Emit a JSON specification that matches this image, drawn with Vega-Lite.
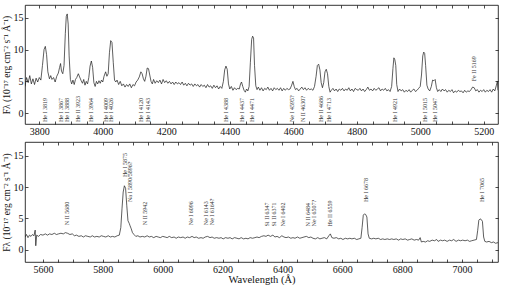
{
"$schema":"https://vega.github.io/schema/vega-lite/v6.json",
"padding":{"left":0,"right":5,"top":4,"bottom":0},
"spacing":4,
"config":{"font":"Liberation Serif","view":{"stroke":"#000","strokeWidth":0.8},
 "text":{"font":"Liberation Serif"},
 "axis":{"domain":false,"grid":false,"tickColor":"#000","tickSize":-3,"tickWidth":0.7,"labelPadding":5,"labelFont":"Liberation Serif","titleFont":"Liberation Serif","labelFontSize":10,"labelColor":"#111","titleFontSize":9.5,"titleFontWeight":"normal","titleColor":"#111"}},
"datasets":{
"top":[{"w":3755,"f":4.2},{"w":3760,"f":5.6},{"w":3765,"f":4.8},{"w":3770,"f":5.9},{"w":3775,"f":4.6},{"w":3780,"f":5.4},{"w":3785,"f":4.5},{"w":3790,"f":5.5},{"w":3795,"f":4.9},{"w":3800,"f":5.6},{"w":3805,"f":5.2},{"w":3810,"f":7.5},{"w":3815,"f":10.0},{"w":3819,"f":10.5},{"w":3823,"f":9.2},{"w":3827,"f":6.5},{"w":3832,"f":5.4},{"w":3836,"f":5.9},{"w":3840,"f":5.3},{"w":3845,"f":5.6},{"w":3850,"f":4.9},{"w":3855,"f":5.8},{"w":3860,"f":6.3},{"w":3864,"f":7.2},{"w":3867,"f":7.8},{"w":3870,"f":6.6},{"w":3874,"f":6.2},{"w":3878,"f":7.5},{"w":3882,"f":12.5},{"w":3885,"f":15.2},{"w":3888,"f":15.6},{"w":3891,"f":14.0},{"w":3894,"f":9.0},{"w":3898,"f":5.3},{"w":3902,"f":4.6},{"w":3906,"f":5.2},{"w":3910,"f":4.5},{"w":3914,"f":5.3},{"w":3918,"f":5.6},{"w":3923,"f":6.2},{"w":3927,"f":5.7},{"w":3932,"f":5.1},{"w":3936,"f":4.7},{"w":3940,"f":5.3},{"w":3944,"f":4.4},{"w":3948,"f":5.0},{"w":3952,"f":4.6},{"w":3956,"f":5.6},{"w":3960,"f":7.4},{"w":3964,"f":8.2},{"w":3968,"f":7.2},{"w":3972,"f":4.8},{"w":3976,"f":4.2},{"w":3980,"f":5.0},{"w":3984,"f":4.6},{"w":3988,"f":5.1},{"w":3992,"f":4.7},{"w":3996,"f":5.2},{"w":4000,"f":4.9},{"w":4004,"f":5.8},{"w":4009,"f":6.5},{"w":4013,"f":5.8},{"w":4017,"f":6.2},{"w":4021,"f":9.5},{"w":4025,"f":11.4},{"w":4029,"f":11.1},{"w":4033,"f":8.0},{"w":4037,"f":5.2},{"w":4041,"f":4.9},{"w":4045,"f":5.2},{"w":4050,"f":4.5},{"w":4055,"f":5.0},{"w":4060,"f":4.3},{"w":4065,"f":4.6},{"w":4070,"f":4.1},{"w":4075,"f":4.5},{"w":4080,"f":4.2},{"w":4085,"f":4.6},{"w":4090,"f":4.0},{"w":4095,"f":4.5},{"w":4100,"f":4.3},{"w":4105,"f":4.9},{"w":4110,"f":5.2},{"w":4115,"f":5.7},{"w":4120,"f":6.5},{"w":4124,"f":6.2},{"w":4128,"f":5.4},{"w":4132,"f":5.0},{"w":4136,"f":5.8},{"w":4140,"f":7.1},{"w":4144,"f":7.0},{"w":4148,"f":6.0},{"w":4152,"f":5.0},{"w":4156,"f":4.6},{"w":4160,"f":5.3},{"w":4165,"f":4.7},{"w":4170,"f":5.1},{"w":4175,"f":4.8},{"w":4180,"f":5.2},{"w":4185,"f":4.6},{"w":4190,"f":5.3},{"w":4195,"f":4.8},{"w":4200,"f":5.1},{"w":4205,"f":4.7},{"w":4210,"f":5.0},{"w":4215,"f":4.6},{"w":4220,"f":4.9},{"w":4225,"f":4.5},{"w":4230,"f":4.9},{"w":4235,"f":4.6},{"w":4240,"f":4.8},{"w":4245,"f":4.5},{"w":4250,"f":4.9},{"w":4255,"f":4.4},{"w":4260,"f":4.7},{"w":4265,"f":4.3},{"w":4270,"f":4.7},{"w":4275,"f":4.4},{"w":4280,"f":4.6},{"w":4285,"f":4.2},{"w":4290,"f":4.6},{"w":4295,"f":4.3},{"w":4300,"f":4.5},{"w":4305,"f":4.1},{"w":4310,"f":4.5},{"w":4315,"f":4.2},{"w":4320,"f":4.4},{"w":4325,"f":4.0},{"w":4330,"f":4.5},{"w":4335,"f":4.1},{"w":4340,"f":4.3},{"w":4345,"f":3.9},{"w":4350,"f":4.4},{"w":4355,"f":4.0},{"w":4360,"f":4.3},{"w":4365,"f":3.8},{"w":4370,"f":4.2},{"w":4375,"f":3.9},{"w":4380,"f":5.0},{"w":4384,"f":6.8},{"w":4388,"f":7.4},{"w":4392,"f":6.9},{"w":4396,"f":4.6},{"w":4400,"f":3.8},{"w":4405,"f":4.2},{"w":4410,"f":3.6},{"w":4415,"f":4.0},{"w":4420,"f":3.7},{"w":4425,"f":3.9},{"w":4430,"f":3.8},{"w":4434,"f":4.6},{"w":4437,"f":4.9},{"w":4441,"f":4.2},{"w":4445,"f":3.6},{"w":4449,"f":3.3},{"w":4453,"f":3.8},{"w":4457,"f":3.5},{"w":4461,"f":4.2},{"w":4465,"f":8.0},{"w":4469,"f":11.6},{"w":4472,"f":12.1},{"w":4475,"f":11.8},{"w":4478,"f":7.5},{"w":4482,"f":4.3},{"w":4486,"f":3.7},{"w":4490,"f":4.1},{"w":4495,"f":3.6},{"w":4500,"f":4.0},{"w":4505,"f":3.5},{"w":4510,"f":3.9},{"w":4515,"f":3.7},{"w":4520,"f":4.1},{"w":4525,"f":3.6},{"w":4530,"f":3.9},{"w":4535,"f":3.5},{"w":4540,"f":4.0},{"w":4545,"f":3.7},{"w":4550,"f":3.9},{"w":4555,"f":3.6},{"w":4560,"f":4.0},{"w":4565,"f":3.5},{"w":4570,"f":3.9},{"w":4575,"f":3.6},{"w":4580,"f":3.9},{"w":4585,"f":3.7},{"w":4590,"f":3.8},{"w":4595,"f":4.4},{"w":4599,"f":5.0},{"w":4603,"f":4.2},{"w":4607,"f":3.7},{"w":4612,"f":3.9},{"w":4617,"f":3.5},{"w":4622,"f":3.8},{"w":4627,"f":4.1},{"w":4632,"f":3.7},{"w":4637,"f":4.0},{"w":4642,"f":3.6},{"w":4647,"f":3.9},{"w":4652,"f":3.7},{"w":4657,"f":3.8},{"w":4662,"f":3.6},{"w":4667,"f":4.2},{"w":4672,"f":5.8},{"w":4676,"f":7.5},{"w":4680,"f":7.7},{"w":4684,"f":6.8},{"w":4688,"f":4.8},{"w":4692,"f":4.0},{"w":4696,"f":4.8},{"w":4700,"f":6.5},{"w":4704,"f":6.9},{"w":4708,"f":6.2},{"w":4712,"f":4.2},{"w":4716,"f":3.3},{"w":4720,"f":3.6},{"w":4725,"f":3.9},{"w":4730,"f":3.5},{"w":4735,"f":3.8},{"w":4740,"f":3.4},{"w":4745,"f":3.8},{"w":4750,"f":3.6},{"w":4755,"f":3.9},{"w":4760,"f":3.5},{"w":4765,"f":3.8},{"w":4770,"f":3.6},{"w":4775,"f":4.0},{"w":4780,"f":3.5},{"w":4785,"f":3.8},{"w":4790,"f":3.4},{"w":4795,"f":3.9},{"w":4800,"f":3.7},{"w":4805,"f":3.6},{"w":4810,"f":3.9},{"w":4815,"f":3.5},{"w":4820,"f":3.8},{"w":4825,"f":3.4},{"w":4830,"f":3.7},{"w":4835,"f":4.1},{"w":4840,"f":3.6},{"w":4845,"f":3.8},{"w":4850,"f":3.5},{"w":4855,"f":3.9},{"w":4860,"f":3.6},{"w":4865,"f":3.8},{"w":4870,"f":4.0},{"w":4875,"f":3.5},{"w":4880,"f":3.8},{"w":4885,"f":3.6},{"w":4890,"f":3.9},{"w":4895,"f":3.5},{"w":4900,"f":3.7},{"w":4905,"f":3.4},{"w":4910,"f":4.2},{"w":4914,"f":7.0},{"w":4917,"f":8.7},{"w":4920,"f":8.4},{"w":4923,"f":7.5},{"w":4926,"f":4.5},{"w":4930,"f":3.4},{"w":4935,"f":3.8},{"w":4940,"f":3.5},{"w":4945,"f":3.7},{"w":4950,"f":3.3},{"w":4955,"f":3.6},{"w":4960,"f":3.4},{"w":4965,"f":3.7},{"w":4970,"f":3.3},{"w":4975,"f":3.6},{"w":4980,"f":3.8},{"w":4985,"f":3.4},{"w":4990,"f":3.6},{"w":4995,"f":3.9},{"w":5000,"f":4.2},{"w":5004,"f":6.0},{"w":5008,"f":9.0},{"w":5011,"f":9.6},{"w":5014,"f":9.4},{"w":5017,"f":7.5},{"w":5021,"f":4.4},{"w":5025,"f":3.8},{"w":5030,"f":3.5},{"w":5035,"f":4.2},{"w":5039,"f":5.2},{"w":5043,"f":5.1},{"w":5047,"f":5.3},{"w":5051,"f":4.0},{"w":5055,"f":3.4},{"w":5060,"f":3.7},{"w":5065,"f":3.4},{"w":5070,"f":3.8},{"w":5075,"f":3.5},{"w":5080,"f":3.7},{"w":5085,"f":3.3},{"w":5090,"f":3.6},{"w":5095,"f":3.4},{"w":5100,"f":3.7},{"w":5105,"f":3.2},{"w":5110,"f":3.5},{"w":5115,"f":3.3},{"w":5120,"f":3.6},{"w":5125,"f":3.4},{"w":5130,"f":3.5},{"w":5135,"f":3.2},{"w":5140,"f":3.6},{"w":5145,"f":3.3},{"w":5150,"f":3.5},{"w":5155,"f":3.4},{"w":5160,"f":3.7},{"w":5165,"f":4.1},{"w":5170,"f":4.0},{"w":5175,"f":3.5},{"w":5180,"f":3.7},{"w":5185,"f":3.3},{"w":5190,"f":3.6},{"w":5195,"f":3.4},{"w":5200,"f":3.7},{"w":5205,"f":3.3},{"w":5210,"f":3.6},{"w":5215,"f":3.4},{"w":5220,"f":3.7},{"w":5225,"f":3.3},{"w":5230,"f":3.8},{"w":5235,"f":3.5},{"w":5240,"f":4.4},{"w":5243,"f":5.0},{"w":5245,"f":3.6}],
"bot":[{"w":5540,"f":2.0},{"w":5545,"f":2.4},{"w":5550,"f":1.9},{"w":5555,"f":2.3},{"w":5560,"f":2.1},{"w":5565,"f":2.4},{"w":5570,"f":2.2},{"w":5574,"f":3.1},{"w":5576,"f":0.6},{"w":5579,"f":2.3},{"w":5585,"f":2.1},{"w":5592,"f":2.4},{"w":5600,"f":2.3},{"w":5608,"f":2.5},{"w":5615,"f":2.3},{"w":5622,"f":2.5},{"w":5630,"f":2.4},{"w":5638,"f":2.6},{"w":5645,"f":2.4},{"w":5652,"f":2.5},{"w":5660,"f":2.6},{"w":5668,"f":2.5},{"w":5675,"f":2.7},{"w":5682,"f":2.6},{"w":5690,"f":2.4},{"w":5698,"f":2.5},{"w":5705,"f":2.2},{"w":5712,"f":2.3},{"w":5720,"f":2.1},{"w":5728,"f":2.2},{"w":5735,"f":2.0},{"w":5742,"f":2.2},{"w":5750,"f":2.1},{"w":5758,"f":2.0},{"w":5765,"f":2.2},{"w":5772,"f":2.0},{"w":5780,"f":2.1},{"w":5788,"f":2.0},{"w":5795,"f":2.2},{"w":5802,"f":2.1},{"w":5810,"f":2.0},{"w":5818,"f":2.2},{"w":5825,"f":2.0},{"w":5832,"f":2.1},{"w":5840,"f":2.0},{"w":5848,"f":2.2},{"w":5855,"f":2.3},{"w":5860,"f":3.5},{"w":5864,"f":6.5},{"w":5868,"f":9.2},{"w":5872,"f":10.2},{"w":5876,"f":9.8},{"w":5880,"f":7.0},{"w":5884,"f":4.6},{"w":5888,"f":4.2},{"w":5891,"f":3.8},{"w":5895,"f":3.3},{"w":5899,"f":2.7},{"w":5904,"f":2.4},{"w":5910,"f":2.1},{"w":5917,"f":2.2},{"w":5924,"f":2.0},{"w":5932,"f":2.1},{"w":5940,"f":2.0},{"w":5948,"f":2.2},{"w":5955,"f":2.0},{"w":5962,"f":2.1},{"w":5970,"f":1.9},{"w":5978,"f":2.1},{"w":5985,"f":2.0},{"w":5992,"f":1.9},{"w":6000,"f":2.1},{"w":6008,"f":2.0},{"w":6015,"f":1.9},{"w":6022,"f":2.1},{"w":6030,"f":1.9},{"w":6038,"f":2.0},{"w":6045,"f":1.8},{"w":6052,"f":2.0},{"w":6060,"f":1.9},{"w":6068,"f":2.0},{"w":6075,"f":1.8},{"w":6082,"f":2.0},{"w":6090,"f":1.9},{"w":6098,"f":2.1},{"w":6105,"f":1.9},{"w":6112,"f":2.0},{"w":6120,"f":1.8},{"w":6128,"f":1.9},{"w":6135,"f":1.8},{"w":6142,"f":2.0},{"w":6150,"f":2.1},{"w":6158,"f":1.9},{"w":6165,"f":2.0},{"w":6172,"f":1.8},{"w":6180,"f":1.9},{"w":6188,"f":1.8},{"w":6195,"f":1.9},{"w":6202,"f":1.7},{"w":6210,"f":1.9},{"w":6218,"f":1.8},{"w":6225,"f":1.9},{"w":6232,"f":1.7},{"w":6240,"f":1.9},{"w":6248,"f":1.8},{"w":6255,"f":1.7},{"w":6262,"f":1.9},{"w":6270,"f":1.7},{"w":6278,"f":1.8},{"w":6285,"f":1.7},{"w":6292,"f":1.9},{"w":6300,"f":1.8},{"w":6308,"f":1.9},{"w":6315,"f":2.0},{"w":6322,"f":1.9},{"w":6330,"f":2.1},{"w":6338,"f":2.2},{"w":6345,"f":2.1},{"w":6352,"f":2.3},{"w":6360,"f":2.1},{"w":6368,"f":2.3},{"w":6375,"f":2.0},{"w":6382,"f":2.1},{"w":6390,"f":1.9},{"w":6398,"f":2.2},{"w":6405,"f":2.0},{"w":6412,"f":1.9},{"w":6420,"f":2.0},{"w":6428,"f":1.8},{"w":6435,"f":1.9},{"w":6442,"f":1.8},{"w":6450,"f":2.0},{"w":6458,"f":1.8},{"w":6465,"f":1.9},{"w":6472,"f":2.0},{"w":6480,"f":2.1},{"w":6488,"f":1.9},{"w":6495,"f":2.0},{"w":6502,"f":1.8},{"w":6510,"f":1.7},{"w":6518,"f":1.9},{"w":6525,"f":1.7},{"w":6532,"f":1.8},{"w":6540,"f":1.9},{"w":6548,"f":1.7},{"w":6555,"f":2.2},{"w":6560,"f":2.5},{"w":6565,"f":1.9},{"w":6572,"f":1.8},{"w":6580,"f":1.9},{"w":6588,"f":1.7},{"w":6595,"f":1.8},{"w":6602,"f":1.6},{"w":6610,"f":1.8},{"w":6618,"f":1.7},{"w":6625,"f":1.8},{"w":6632,"f":1.7},{"w":6640,"f":1.8},{"w":6648,"f":1.6},{"w":6655,"f":1.7},{"w":6662,"f":1.8},{"w":6666,"f":3.5},{"w":6670,"f":5.5},{"w":6674,"f":5.7},{"w":6678,"f":5.6},{"w":6682,"f":5.2},{"w":6686,"f":2.5},{"w":6690,"f":1.8},{"w":6698,"f":1.7},{"w":6705,"f":1.8},{"w":6712,"f":1.7},{"w":6720,"f":1.8},{"w":6728,"f":1.6},{"w":6735,"f":1.7},{"w":6742,"f":1.6},{"w":6750,"f":1.7},{"w":6758,"f":1.6},{"w":6765,"f":1.7},{"w":6772,"f":1.6},{"w":6780,"f":1.7},{"w":6788,"f":1.5},{"w":6795,"f":1.7},{"w":6802,"f":1.6},{"w":6810,"f":1.7},{"w":6818,"f":1.5},{"w":6825,"f":1.6},{"w":6832,"f":1.7},{"w":6840,"f":1.5},{"w":6848,"f":1.6},{"w":6855,"f":1.5},{"w":6860,"f":1.9},{"w":6864,"f":1.2},{"w":6870,"f":1.3},{"w":6878,"f":1.2},{"w":6885,"f":1.4},{"w":6892,"f":1.3},{"w":6900,"f":1.5},{"w":6908,"f":1.4},{"w":6915,"f":1.6},{"w":6920,"f":1.3},{"w":6928,"f":1.5},{"w":6935,"f":1.4},{"w":6942,"f":1.5},{"w":6950,"f":1.3},{"w":6958,"f":1.5},{"w":6965,"f":1.4},{"w":6972,"f":1.6},{"w":6980,"f":1.3},{"w":6988,"f":1.5},{"w":6995,"f":1.4},{"w":7002,"f":1.5},{"w":7010,"f":1.4},{"w":7018,"f":1.5},{"w":7025,"f":1.3},{"w":7032,"f":1.4},{"w":7040,"f":1.5},{"w":7048,"f":1.6},{"w":7052,"f":3.0},{"w":7056,"f":4.7},{"w":7060,"f":4.9},{"w":7064,"f":4.8},{"w":7068,"f":4.5},{"w":7072,"f":2.0},{"w":7076,"f":1.3},{"w":7082,"f":1.2},{"w":7090,"f":1.3},{"w":7098,"f":1.1},{"w":7105,"f":1.2},{"w":7112,"f":1.0},{"w":7120,"f":1.1}],
"toplab":[{"w":3819,"y":-1.4,"t":"He I 3819"},{"w":3867,"y":-1.4,"t":"He I 3867"},{"w":3888,"y":-1.4,"t":"He I 3888"},{"w":3923,"y":-1.4,"t":"He II 3923"},{"w":3964,"y":-1.4,"t":"He I 3964"},{"w":4009,"y":-1.4,"t":"He I 4009"},{"w":4026,"y":-1.4,"t":"He I 4026"},{"w":4120,"y":-1.4,"t":"He I 4120"},{"w":4143,"y":-1.4,"t":"He I 4143"},{"w":4388,"y":-1.4,"t":"He I 4388"},{"w":4437,"y":-1.4,"t":"He I 4437"},{"w":4471,"y":-1.4,"t":"He I 4471"},{"w":4595,"y":-1.4,"t":"Ne I 4595?"},{"w":4630,"y":-1.4,"t":"N II 4630?"},{"w":4686,"y":-1.4,"t":"He II 4686"},{"w":4713,"y":-1.4,"t":"He I 4713"},{"w":4921,"y":-1.4,"t":"He I 4921"},{"w":5015,"y":-1.4,"t":"He I 5015"},{"w":5047,"y":-1.4,"t":"He I 5047"},{"w":5169,"y":5.0,"t":"Fe II 5169"}],
"botlab":[{"w":5680,"y":3.9,"t":"N II 5680"},{"w":5875,"y":11.6,"t":"He I 5875"},{"w":5890,"y":7.6,"t":"Na I 5890/5896?"},{"w":5942,"y":3.9,"t":"N II 5942"},{"w":6096,"y":3.9,"t":"Ne I 6096"},{"w":6143,"y":3.9,"t":"Ne I 6143"},{"w":6164,"y":3.9,"t":"Ne I 6164?"},{"w":6347,"y":3.7,"t":"Si II 6347"},{"w":6371,"y":3.7,"t":"Si II 6371"},{"w":6402,"y":3.7,"t":"Ne I 6402"},{"w":6484,"y":3.7,"t":"N II 6484"},{"w":6507,"y":3.7,"t":"Ne I 6507?"},{"w":6559,"y":3.7,"t":"He II 6559"},{"w":6678,"y":7.6,"t":"He I 6678"},{"w":7065,"y":7.6,"t":"He I 7065"}]
},
"vconcat":[
 {"width":473,"height":119,
  "layer":[
   {"data":{"name":"top"},"mark":{"type":"line","color":"#1a1a1a","strokeWidth":0.7,"clip":true},
    "encoding":{
     "x":{"field":"w","type":"quantitative","scale":{"domain":[3755,5245],"nice":false,"zero":false},
      "axis":{"title":null,"values":[3800,3850,3900,3950,4000,4050,4100,4150,4200,4250,4300,4350,4400,4450,4500,4550,4600,4650,4700,4750,4800,4850,4900,4950,5000,5050,5100,5150,5200],"labelExpr":"datum.value % 200 === 0 ? datum.value : ''","labelFlush":false}},
     "y":{"field":"f","type":"quantitative","scale":{"domain":[-1.7,17],"nice":false,"zero":false},
      "axis":{"title":"Fλ (10⁻¹⁷ erg cm⁻² s⁻¹ Å⁻¹)","values":[0,5,10,15],"titlePadding":2}}}},
   {"data":{"name":"toplab"},"mark":{"type":"text","angle":270,"align":"left","baseline":"middle","fontSize":6,"color":"#333","font":"Liberation Serif"},
    "encoding":{
     "x":{"field":"w","type":"quantitative","axis":{"orient":"top","title":null,"labels":false,"values":[3800,3850,3900,3950,4000,4050,4100,4150,4200,4250,4300,4350,4400,4450,4500,4550,4600,4650,4700,4750,4800,4850,4900,4950,5000,5050,5100,5150,5200]}},
     "y":{"field":"y","type":"quantitative","axis":{"orient":"right","title":null,"labels":false,"values":[0,5,10,15]}},
     "text":{"field":"t"}}}
  ],
  "resolve":{"axis":{"x":"independent","y":"independent"}}
 },
 {"width":473,"height":120,
  "layer":[
   {"data":{"name":"bot"},"mark":{"type":"line","color":"#1a1a1a","strokeWidth":0.7,"clip":true},
    "encoding":{
     "x":{"field":"w","type":"quantitative","scale":{"domain":[5540,7120],"nice":false,"zero":false},
      "axis":{"title":"Wavelength (Å)","titlePadding":0,"titleFontSize":10.5,"values":[5600,5650,5700,5750,5800,5850,5900,5950,6000,6050,6100,6150,6200,6250,6300,6350,6400,6450,6500,6550,6600,6650,6700,6750,6800,6850,6900,6950,7000,7050,7100],"labelExpr":"datum.value % 200 === 0 ? datum.value : ''","labelFlush":false}},
     "y":{"field":"f","type":"quantitative","scale":{"domain":[-2,17.2],"nice":false,"zero":false},
      "axis":{"title":"Fλ (10⁻¹⁷ erg cm⁻² s⁻¹ Å⁻¹)","values":[0,5,10,15],"titlePadding":2}}}},
   {"data":{"name":"botlab"},"mark":{"type":"text","angle":270,"align":"left","baseline":"middle","fontSize":6,"color":"#333","font":"Liberation Serif"},
    "encoding":{
     "x":{"field":"w","type":"quantitative","axis":{"orient":"top","title":null,"labels":false,"values":[5600,5650,5700,5750,5800,5850,5900,5950,6000,6050,6100,6150,6200,6250,6300,6350,6400,6450,6500,6550,6600,6650,6700,6750,6800,6850,6900,6950,7000,7050,7100]}},
     "y":{"field":"y","type":"quantitative","axis":{"orient":"right","title":null,"labels":false,"values":[0,5,10,15]}},
     "text":{"field":"t"}}}
  ],
  "resolve":{"axis":{"x":"independent","y":"independent"}}
 }
]
}
